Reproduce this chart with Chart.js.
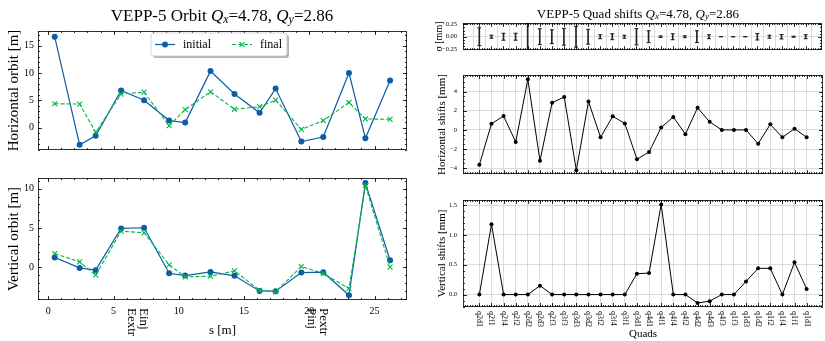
<!DOCTYPE html>
<html>
<head>
<meta charset="utf-8">
<script src="https://cdn.jsdelivr.net/npm/chart.js@4.4.1/dist/chart.umd.min.js"></script>
<style>
  html, body { margin: 0; padding: 0; background: #fff; width: 825px; height: 341px; overflow: hidden; }
  canvas { position: absolute; }
  .title { position: absolute; font-family: 'Liberation Serif', serif; white-space: nowrap; line-height: 1; color: #000; transform: translateX(-50%); z-index: 2; }
  .title sub { font-size: 70%; line-height: 0; position: relative; top: 0.15em; vertical-align: baseline; }
</style>
</head>
<body>
<canvas id="hOrbit" width="412" height="160" style="left:0;top:0"></canvas>
<canvas id="vOrbit" width="412" height="176" style="left:0;top:165px"></canvas>
<canvas id="sigma" width="415" height="60" style="left:412px;top:0"></canvas>
<canvas id="hShift" width="415" height="122" style="left:412px;top:62px"></canvas>
<canvas id="vShift" width="415" height="151" style="left:412px;top:190px"></canvas>
<div class="title" style="left:222px;top:7px;font-size:17px">VEPP-5 Orbit <i>Q</i><sub><i>x</i></sub>=4.78, <i>Q</i><sub><i>y</i></sub>=2.86</div>
<div class="title" style="left:638px;top:7px;font-size:13px">VEPP-5 Quad shifts <i>Q</i><sub><i>x</i></sub>=4.78, <i>Q</i><sub><i>y</i></sub>=2.86</div>
<script>
  // Orbit data (BPM positions along the ring)
  const sPos = [0.49, 2.40, 3.63, 5.58, 7.34, 9.26, 10.49, 12.43, 14.27, 16.19, 17.42, 19.39, 21.07, 23.04, 24.30, 26.19];
  const hInitial = [16.6, -3.13, -1.48, 6.79, 5.02, 1.30, 0.94, 10.33, 6.14, 2.72, 7.14, -2.54, -1.71, 9.98, -1.95, 8.62];
  const hFinal = [4.37, 4.31, -0.83, 6.14, 6.49, 0.35, 3.31, 6.55, 3.36, 3.84, 5.02, -0.30, 1.30, 4.60, 1.59, 1.53];
  const vInitial = [1.23, -0.09, -0.38, 4.94, 5.03, -0.77, -1.06, -0.60, -1.10, -3.02, -3.06, -0.68, -0.64, -3.57, 10.72, 0.89];
  const vFinal = [1.74, 0.68, -1.02, 4.60, 4.38, 0.30, -1.23, -1.15, -0.47, -2.94, -3.15, 0.09, -0.81, -2.72, 10.43, 0.00];
  const markerS = [6.36, 7.26, 20.17, 21.06];
  const markerNames = ['Eextr', 'Einj', 'Pinj', 'Pextr'];

  // Quad shifts
  const quads = ['q2d1', 'q2f1', 'q2f4', 'q2f2', 'q2d2', 'q2d3', 'q2f3', 'q3f3', 'q3d3', 'q3d2', 'q3f2', 'q3f4', 'q3f1', 'q3d1',
                 'q4d1', 'q4f1', 'q4f4', 'q4f2', 'q4d2', 'q4d3', 'q4f3', 'q1f3', 'q1d3', 'q1d2', 'q1f2', 'q1f4', 'q1f1', 'q1d1'];
  const sigma = [0.18, 0.03, 0.07, 0.07, 0.27, 0.16, 0.14, 0.17, 0.21, 0.15, 0.04, 0.06, 0.03, 0.165,
                 0.12, 0.015, 0.06, 0.02, 0.12, 0.04, 0, 0, 0, 0.065, 0.03, 0.045, 0.01, 0.04];
  const hShift = [-3.65, 0.65, 1.45, -1.26, 5.29, -3.23, 2.84, 3.45, -4.23, 2.97, -0.77, 1.42, 0.68, -3.06,
                  -2.32, 0.26, 1.35, -0.45, 2.32, 0.84, 0, 0, 0, -1.45, 0.58, -0.77, 0.13, -0.77];
  const vShift = [0, 1.18, 0, 0, 0, 0.15, 0, 0, 0, 0, 0, 0, 0, 0.35,
                  0.36, 1.51, 0, 0, -0.14, -0.11, 0, 0, 0.22, 0.44, 0.44, 0, 0.54, 0.095];

  // Tick labels
  const sTicks = [0, 5, 10, 15, 20, 25];
  const hOrbitTicks = [0, 5, 10, 15];
  const vOrbitTicks = [0, 5, 10];
  const sigmaTicks = [-0.25, 0, 0.25];
  const hShiftTicks = [-4, -2, 0, 2, 4];
  const vShiftTicks = [0, 0.5, 1, 1.5];

  const SERIF = "'Liberation Serif', 'Times New Roman', serif";
  const BLUE = '#0C5DA5';
  const GREEN = '#00B945';
  Chart.defaults.font.family = SERIF;

  const quadIdx = quads.map((q, i) => i);
  const pts = (xs, ys) => ys.map((y, i) => ({ x: xs[i], y: y }));
  const fmt = d => v => Number(v).toFixed(d).replace('-', '\u2212');

  function axis(o) {
    return {
      type: 'linear', min: o.min, max: o.max, offset: false,
      grid: { display: !!o.grid, color: '#d2d2d2', lineWidth: 0.8, drawTicks: false },
      border: { display: false },
      afterBuildTicks: s => { s.ticks = o.ticks.map(v => ({ value: v })); },
      afterFit: s => { if (s.isHorizontal()) s.height = o.size; else s.width = o.size; },
      ticks: { display: !!o.font, font: { size: o.font || 10 }, color: '#000', padding: o.pad || 0, callback: o.fmt || (v => v) },
      title: o.title
        ? { display: true, text: o.title, color: '#000', font: { size: o.titleSize }, padding: o.titlePad }
        : { display: false }
    };
  }

  // inward ticks on all four sides, plus the frame
  function frame(xMinor, yMinor) {
    return {
      id: 'frame',
      afterDatasetsDraw(chart) {
        const { ctx, chartArea: a, scales: { x, y } } = chart;
        ctx.save();
        ctx.strokeStyle = '#000';
        ctx.lineWidth = 0.8;
        ctx.beginPath();
        const mark = (scale, step, len) => {
          let vals;
          if (!step) vals = scale.ticks.map(t => t.value);
          else {
            vals = [];
            for (let k = Math.ceil(scale.min / step - 1e-9); k * step <= scale.max + 1e-9; k++) vals.push(k * step);
          }
          vals.forEach(v => {
            const p = Math.round(scale.getPixelForValue(v)) + 0.5;
            if (scale.isHorizontal()) {
              ctx.moveTo(p, a.bottom); ctx.lineTo(p, a.bottom - len);
              ctx.moveTo(p, a.top); ctx.lineTo(p, a.top + len);
            } else {
              ctx.moveTo(a.left, p); ctx.lineTo(a.left + len, p);
              ctx.moveTo(a.right, p); ctx.lineTo(a.right - len, p);
            }
          });
        };
        mark(x, 0, 4); mark(x, xMinor, 2);
        mark(y, 0, 4); mark(y, yMinor, 2);
        ctx.stroke();
        ctx.strokeRect(a.left + 0.5, a.top + 0.5, a.width - 1, a.height - 1);
        ctx.restore();
      }
    };
  }

  // vertical text under the x axis (reads top to bottom)
  function sideLabels(values, labels, offset, size) {
    return {
      id: 'sideLabels',
      afterDraw(chart) {
        const { ctx, chartArea: a, scales: { x } } = chart;
        ctx.save();
        ctx.font = size + 'px ' + SERIF;
        ctx.fillStyle = '#000';
        ctx.textAlign = 'left';
        ctx.textBaseline = 'middle';
        values.forEach((v, i) => {
          ctx.save();
          ctx.translate(x.getPixelForValue(v), a.bottom + offset);
          ctx.rotate(Math.PI / 2);
          ctx.fillText(labels[i], 0, 0);
          ctx.restore();
        });
        ctx.restore();
      }
    };
  }

  const legendBox = {
    id: 'legendBox',
    afterDraw(chart) {
      const ctx = chart.ctx;
      const bx = 151, by = 33, bw = 136, bh = 23;
      ctx.save();
      ctx.fillStyle = 'rgba(0,0,0,0.3)';
      ctx.beginPath(); ctx.roundRect(bx + 2, by + 2, bw, bh, 3); ctx.fill();
      ctx.fillStyle = '#fff'; ctx.strokeStyle = '#cccccc'; ctx.lineWidth = 0.8;
      ctx.beginPath(); ctx.roundRect(bx, by, bw, bh, 3); ctx.fill(); ctx.stroke();
      const yc = by + 11.5;
      [['initial', 155], ['final', 232]].forEach(([label, x0]) => {
        const ds = chart.data.datasets.find(d => d.label === label);
        ctx.strokeStyle = ds.borderColor; ctx.fillStyle = ds.borderColor;
        ctx.lineWidth = ds.borderWidth;
        ctx.setLineDash(ds.borderDash || []);
        ctx.beginPath(); ctx.moveTo(x0, yc); ctx.lineTo(x0 + 20, yc); ctx.stroke();
        ctx.setLineDash([]);
        const r = ds.pointRadius, cx = x0 + 10;
        ctx.beginPath();
        if (ds.pointStyle === 'circle') { ctx.arc(cx, yc, r, 0, Math.PI * 2); ctx.fill(); }
        else { ctx.moveTo(cx - r * 0.7, yc - r * 0.7); ctx.lineTo(cx + r * 0.7, yc + r * 0.7); ctx.moveTo(cx - r * 0.7, yc + r * 0.7); ctx.lineTo(cx + r * 0.7, yc - r * 0.7); ctx.stroke(); }
        ctx.fillStyle = '#000';
        ctx.font = '12px ' + SERIF;
        ctx.textBaseline = 'middle';
        ctx.fillText(label, x0 + 28, yc);
      });
      ctx.restore();
    }
  };

  const common = padding => ({
    responsive: false, animation: false, events: [],
    layout: { padding: padding },
    plugins: { legend: { display: false }, tooltip: { enabled: false } }
  });

  const orbitSets = (ini, fin) => [
    { label: 'final', data: pts(sPos, fin), borderColor: GREEN, backgroundColor: GREEN, borderWidth: 1.1, borderDash: [4, 2],
      pointStyle: 'crossRot', pointRadius: 3.5, pointBorderWidth: 1.1, order: 0 },
    { label: 'initial', data: pts(sPos, ini), borderColor: BLUE, backgroundColor: BLUE, borderWidth: 1.2,
      pointStyle: 'circle', pointRadius: 3, pointBorderWidth: 0, order: 1 }
  ];

  // Horizontal orbit
  new Chart(document.getElementById('hOrbit'), {
    type: 'line',
    data: { datasets: orbitSets(hInitial, hFinal) },
    options: Object.assign(common({ left: 0, right: 5, top: 31, bottom: 0 }), {
      scales: {
        x: axis({ min: -0.79, max: 27.48, ticks: sTicks, size: 7 }),
        y: axis({ min: -4.08, max: 17.66, ticks: hOrbitTicks, size: 38, font: 10, pad: 4,
                  title: 'Horizontal orbit [m]', titleSize: 15, titlePad: { top: 5, bottom: 0 } })
      }
    }),
    plugins: [frame(1, 1), legendBox]
  });

  // Vertical orbit
  new Chart(document.getElementById('vOrbit'), {
    type: 'line',
    data: { datasets: orbitSets(vInitial, vFinal) },
    options: Object.assign(common({ left: 0, right: 5, top: 13, bottom: 0 }), {
      scales: {
        x: axis({ min: -0.79, max: 27.48, ticks: sTicks, size: 41, font: 10, pad: 5,
                  title: 's [m]', titleSize: 13, titlePad: { top: 0, bottom: 3 } }),
        y: axis({ min: -4.18, max: 11.37, ticks: vOrbitTicks, size: 38, font: 10, pad: 4,
                  title: 'Vertical orbit [m]', titleSize: 15, titlePad: { top: 5, bottom: 0 } })
      }
    }),
    plugins: [frame(1, 1), sideLabels(markerS, markerNames, 8, 13)]
  });

  // Sigma error bars
  new Chart(document.getElementById('sigma'), {
    type: 'line',
    data: {
      datasets: [
        { type: 'bar', data: quadIdx.map(i => ({ x: i, y: [-sigma[i], sigma[i]] })), backgroundColor: '#222', barThickness: 1, borderWidth: 0 },
        { data: pts(quadIdx, sigma), showLine: false, pointStyle: 'line', pointRadius: 2, pointBorderWidth: 1, borderColor: '#222' },
        { data: pts(quadIdx, sigma.map(v => -v)), showLine: false, pointStyle: 'line', pointRadius: 2, pointBorderWidth: 1, borderColor: '#222' }
      ]
    },
    options: Object.assign(common({ left: 0, right: 0, top: 23, bottom: 0 }), {
      scales: {
        x: axis({ min: -1.35, max: 28.35, ticks: quadIdx, size: 3, grid: true }),
        y: axis({ min: -0.27, max: 0.277, ticks: sigmaTicks, size: 51, font: 6.5, pad: 6, fmt: fmt(2), grid: true,
                  title: '\u03c3 [mm]', titleSize: 10, titlePad: { top: 21, bottom: 0 } })
      }
    }),
    plugins: [frame(0.2, 0.0625)]
  });

  const shiftSet = vals => ({ data: pts(quadIdx, vals), borderColor: '#000', backgroundColor: '#000', borderWidth: 1,
                              pointRadius: 2, pointBorderWidth: 0 });

  // Horizontal shifts
  new Chart(document.getElementById('hShift'), {
    type: 'line',
    data: { datasets: [shiftSet(hShift)] },
    options: Object.assign(common({ left: 0, right: 0, top: 13, bottom: 0 }), {
      scales: {
        x: axis({ min: -1.35, max: 28.35, ticks: quadIdx, size: 2, grid: true }),
        y: axis({ min: -4.62, max: 5.74, ticks: hShiftTicks, size: 51, font: 6.5, pad: 6, fmt: fmt(0), grid: true,
                  title: 'Horizontal shifts [mm]', titleSize: 11, titlePad: { top: 24, bottom: 0 } })
      }
    }),
    plugins: [frame(0.2, 0.5)]
  });

  // Vertical shifts
  new Chart(document.getElementById('vShift'), {
    type: 'line',
    data: { datasets: [shiftSet(vShift)] },
    options: Object.assign(common({ left: 0, right: 0, top: 10, bottom: 0 }), {
      scales: {
        x: axis({ min: -1.35, max: 28.35, ticks: quadIdx, size: 34, grid: true,
                  title: 'Quads', titleSize: 11, titlePad: { top: 0, bottom: 0 } }),
        y: axis({ min: -0.208, max: 1.585, ticks: vShiftTicks, size: 51, font: 6.5, pad: 6, fmt: fmt(1), grid: true,
                  title: 'Vertical shifts [mm]', titleSize: 11, titlePad: { top: 24, bottom: 0 } })
      }
    }),
    plugins: [frame(0.2, 0.1), sideLabels(quadIdx, quads, 4, 8)]
  });
</script>
</body>
</html>
